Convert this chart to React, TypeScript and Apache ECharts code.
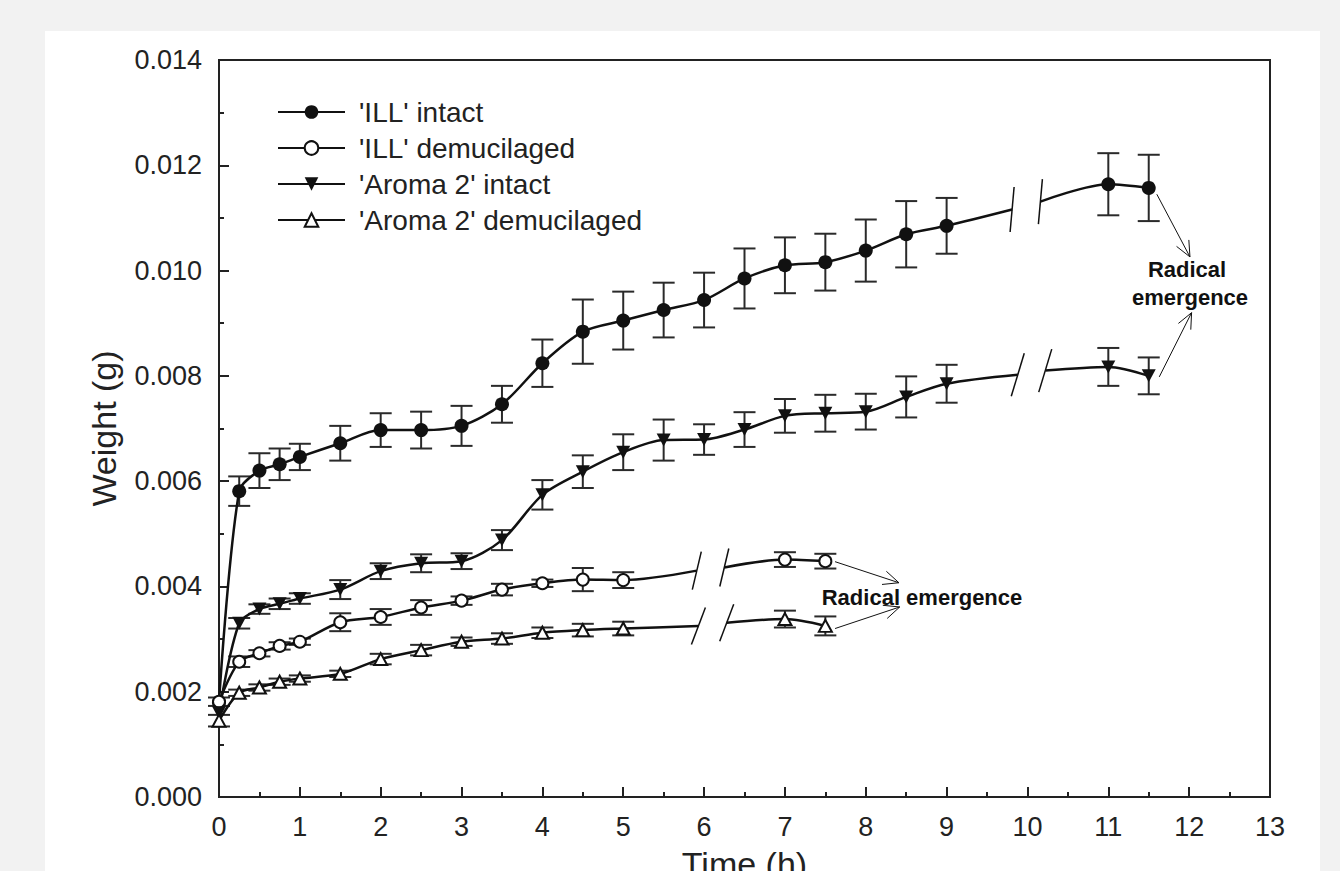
import { useEffect, useRef } from "react";
import * as echarts from "echarts";

const FONT = '"Liberation Sans", Arial, Helvetica, sans-serif';

const seriesNames = ["'ILL' intact", "'ILL' demucilaged", "'Aroma 2' intact", "'Aroma 2' demucilaged"];

const intactTime = [0, 0.25, 0.5, 0.75, 1, 1.5, 2, 2.5, 3, 3.5, 4, 4.5, 5, 5.5, 6, 6.5, 7, 7.5, 8, 8.5, 9, 11, 11.5];
const demucTime = [0, 0.25, 0.5, 0.75, 1, 1.5, 2, 2.5, 3, 3.5, 4, 4.5, 5, 7, 7.5];

const illIntact = [0.0018, 0.00581, 0.0062, 0.00632, 0.00646, 0.00672, 0.00697, 0.00697, 0.00705, 0.00746, 0.00824, 0.00884, 0.00905, 0.00925, 0.00944, 0.00985, 0.0101, 0.01016, 0.01038, 0.01069, 0.01085, 0.01164, 0.01157];
const illIntactErr = [0, 0.00028, 0.00033, 0.0003, 0.00025, 0.00033, 0.00032, 0.00035, 0.00038, 0.00035, 0.00045, 0.00061, 0.00055, 0.00052, 0.00052, 0.00057, 0.00053, 0.00054, 0.00059, 0.00063, 0.00053, 0.00059, 0.00063];

const aromaIntact = [0.0016, 0.0033, 0.00357, 0.00367, 0.00377, 0.00394, 0.00429, 0.00444, 0.00448, 0.00488, 0.00574, 0.00618, 0.00655, 0.00678, 0.00679, 0.00698, 0.00724, 0.00729, 0.00732, 0.0076, 0.00785, 0.00817, 0.008];
const aromaIntactErr = [0, 0.0001, 0.00009, 0.0001, 0.0001, 0.00018, 0.00015, 0.00017, 0.00015, 0.00019, 0.00028, 0.00031, 0.00034, 0.00039, 0.00029, 0.00033, 0.00032, 0.00035, 0.00034, 0.00039, 0.00036, 0.00036, 0.00035];

const illDemuc = [0.00181, 0.00257, 0.00273, 0.00287, 0.00295, 0.00332, 0.00342, 0.0036, 0.00373, 0.00394, 0.00406, 0.00413, 0.00412, 0.00451, 0.00448];
const illDemucErr = [0.00008, 0.0001, 0.00006, 0.00007, 0.00006, 0.00017, 0.00015, 0.00014, 0.00008, 0.00011, 0.00007, 0.00022, 0.00015, 0.00014, 0.00014];

const aromaDemuc = [0.00145, 0.00198, 0.00208, 0.00219, 0.00225, 0.00234, 0.00262, 0.00279, 0.00295, 0.00301, 0.00312, 0.00317, 0.0032, 0.00338, 0.00325];
const aromaDemucErr = [0.00011, 0.00006, 0.00006, 0.00006, 0.00006, 0.00006, 0.0001, 0.0001, 0.00008, 0.0001, 0.0001, 0.00012, 0.00013, 0.00016, 0.00018];

// visible ends of each curve on both sides of its axis-break marks
const illIntactBreak = [[9.81, 0.01116], [10.16, 0.01131]];
const aromaIntactBreak = [[9.88, 0.00802], [10.22, 0.0081]];
const illDemucBreak = [[5.91, 0.0043], [6.25, 0.00436]];
const aromaDemucBreak = [[5.93, 0.00325], [6.28, 0.00331]];

// annotation arrows: [fromX, fromY, toX, toY]
const arrowData = [
  [11.6, 0.01145, 12.01, 0.01026],
  [11.63, 0.00798, 12.03, 0.0092],
  [7.62, 0.00447, 8.41, 0.00407],
  [7.62, 0.0032, 8.42, 0.00361],
];

const annotationTexts = ["Radical emergence", "Radical", "emergence"];

const INK = "#111";

function buildLine(times: number[], vals: number[], brk: number[][]) {
  const out: any[] = [];
  let inserted = false;
  times.forEach((t, i) => {
    if (!inserted && t > brk[0][0]) {
      out.push({ value: brk[0], symbol: "none" });
      out.push([(brk[0][0] + brk[1][0]) / 2, "-"]);
      out.push({ value: brk[1], symbol: "none" });
      inserted = true;
    }
    out.push([t, vals[i]]);
  });
  return out;
}

function errData(times: number[], vals: number[], errs: number[]) {
  return times
    .map((t, i) => [t, vals[i] - errs[i], vals[i] + errs[i]])
    .filter((d, i) => errs[i] > 0);
}

function errSeries(times: number[], vals: number[], errs: number[]) {
  return {
    type: "custom",
    z: 1,
    silent: true,
    encode: { x: 0, y: [1, 2] },
    data: errData(times, vals, errs),
    renderItem: (params: any, api: any) => {
      const x = api.value(0);
      const top = api.coord([x, api.value(2)]);
      const bot = api.coord([x, api.value(1)]);
      const w = 11;
      const st = { stroke: "#2a2a2a", lineWidth: 2 };
      return {
        type: "group",
        children: [
          { type: "line", shape: { x1: top[0], y1: top[1], x2: bot[0], y2: bot[1] }, style: st },
          { type: "line", shape: { x1: top[0] - w, y1: top[1], x2: top[0] + w, y2: top[1] }, style: st },
          { type: "line", shape: { x1: bot[0] - w, y1: bot[1], x2: bot[0] + w, y2: bot[1] }, style: st },
        ],
      };
    },
  };
}

function breakSeries(brk: number[][], slant: number, h: number) {
  return {
    type: "custom",
    z: 5,
    silent: true,
    encode: { x: 0, y: 1 },
    data: brk,
    renderItem: (params: any, api: any) => {
      const p = api.coord([api.value(0), api.value(1)]);
      return {
        type: "line",
        shape: { x1: p[0] + slant / 2, y1: p[1] - h / 2, x2: p[0] - slant / 2, y2: p[1] + h / 2 },
        style: { stroke: INK, lineWidth: 1.5 },
      };
    },
  };
}

const arrowSeries = {
  type: "custom",
  z: 5,
  silent: true,
  encode: { x: [0, 2], y: [1, 3] },
  data: arrowData,
  renderItem: (params: any, api: any) => {
    const a = api.coord([api.value(0), api.value(1)]);
    const b = api.coord([api.value(2), api.value(3)]);
    const ang = Math.atan2(b[1] - a[1], b[0] - a[0]);
    const L = 17;
    const sp = 0.42;
    const st = { stroke: INK, lineWidth: 1 };
    const h1 = [b[0] - L * Math.cos(ang - sp), b[1] - L * Math.sin(ang - sp)];
    const h2 = [b[0] - L * Math.cos(ang + sp), b[1] - L * Math.sin(ang + sp)];
    return {
      type: "group",
      children: [
        { type: "line", shape: { x1: a[0], y1: a[1], x2: b[0], y2: b[1] }, style: st },
        { type: "line", shape: { x1: b[0], y1: b[1], x2: h1[0], y2: h1[1] }, style: st },
        { type: "line", shape: { x1: b[0], y1: b[1], x2: h2[0], y2: h2[1] }, style: st },
      ],
    };
  },
};

const DOWN_TRI = "path://M0,0L20,0L10,18Z";

function mainSeries(name: string, times: number[], vals: number[], brk: number[][], symbol: string, size: any, filled: boolean) {
  return {
    name,
    type: "line",
    z: 3,
    smooth: 0.3,
    connectNulls: false,
    data: buildLine(times, vals, brk),
    symbol,
    symbolSize: size,
    showAllSymbol: true,
    lineStyle: { color: INK, width: 2.5 },
    itemStyle: filled
      ? { color: INK, borderColor: INK, borderWidth: 0 }
      : { color: "#fff", borderColor: INK, borderWidth: 2 },
    emphasis: { disabled: true },
  };
}

export default function App() {
  const ref = useRef<HTMLDivElement>(null);
  useEffect(() => {
    if (!ref.current) return;
    const chart = echarts.init(ref.current, undefined, { renderer: "svg" });
    const textStyle = { fontFamily: FONT, fontWeight: "bold" as const, fontSize: 22, fill: "#111", align: "center", verticalAlign: "middle" };
    chart.setOption({
      animation: false,
      grid: {
        left: 219, top: 60, right: 70, bottom: 74,
        outerBoundsMode: "none",
        containLabel: false,
        show: true, borderColor: "#222", borderWidth: 2, backgroundColor: "transparent",
      },
      legend: {
        data: seriesNames,
        orient: "vertical",
        left: 277,
        top: 98,
        padding: 0,
        itemWidth: 67,
        itemHeight: 17,
        itemGap: 8,
        selectedMode: false,
        textStyle: { fontFamily: FONT, fontSize: 28, color: "#222", padding: [0, 0, 0, 9] },
      },
      xAxis: {
        type: "value",
        min: 0,
        max: 13,
        interval: 1,
        name: "Time (h)",
        nameLocation: "middle",
        nameGap: 50,
        nameTextStyle: { fontFamily: FONT, fontSize: 34, color: "#222" },
        axisLine: { show: true, lineStyle: { color: "#222", width: 2 } },
        axisTick: { show: true, inside: true, length: 10, lineStyle: { color: "#222", width: 2 } },
        minorTick: { show: true, splitNumber: 2, length: 5, lineStyle: { color: "#222", width: 2 } },
        axisLabel: { fontFamily: FONT, fontSize: 27, color: "#222", margin: 16 },
        splitLine: { show: false },
      },
      yAxis: {
        type: "value",
        min: 0,
        max: 0.014,
        interval: 0.002,
        name: "Weight (g)",
        nameLocation: "middle",
        nameGap: 98,
        nameTextStyle: { fontFamily: FONT, fontSize: 34, color: "#222" },
        axisLine: { show: true, lineStyle: { color: "#222", width: 2 } },
        axisTick: { show: true, inside: true, length: 10, lineStyle: { color: "#222", width: 2 } },
        minorTick: { show: true, splitNumber: 2, length: 5, lineStyle: { color: "#222", width: 2 } },
        axisLabel: { fontFamily: FONT, fontSize: 27, color: "#222", margin: 17, formatter: (v: number) => v.toFixed(3) },
        splitLine: { show: false },
      },
      series: [
        errSeries(intactTime, illIntact, illIntactErr),
        errSeries(demucTime, illDemuc, illDemucErr),
        errSeries(intactTime, aromaIntact, aromaIntactErr),
        errSeries(demucTime, aromaDemuc, aromaDemucErr),
        mainSeries(seriesNames[0], intactTime, illIntact, illIntactBreak, "circle", 14, true),
        mainSeries(seriesNames[1], demucTime, illDemuc, illDemucBreak, "circle", 12, false),
        mainSeries(seriesNames[2], intactTime, aromaIntact, aromaIntactBreak, DOWN_TRI, [14, 13], true),
        mainSeries(seriesNames[3], demucTime, aromaDemuc, aromaDemucBreak, "triangle", [13, 12], false),
        breakSeries(illIntactBreak, 4, 45),
        breakSeries(aromaIntactBreak, 13, 43),
        breakSeries(illDemucBreak, 9, 38),
        breakSeries(aromaDemucBreak, 14, 37),
        arrowSeries,
      ],
      graphic: [
        { type: "text", x: 922, y: 597, style: { ...textStyle, text: annotationTexts[0] } },
        { type: "text", x: 1187, y: 269, style: { ...textStyle, text: annotationTexts[1] } },
        { type: "text", x: 1190, y: 297, style: { ...textStyle, text: annotationTexts[2] } },
      ],
    });
    return () => chart.dispose();
  }, []);
  return (
    <div style={{ position: "absolute", left: 0, top: 0, width: 1340, height: 871, background: "#f2f2f2", overflow: "hidden" }}>
      <div style={{ position: "absolute", left: 45, top: 31, width: 1275, height: 840, background: "#ffffff" }} />
      <div ref={ref} style={{ position: "absolute", left: 0, top: 0, width: 1340, height: 871 }} />
    </div>
  );
}
